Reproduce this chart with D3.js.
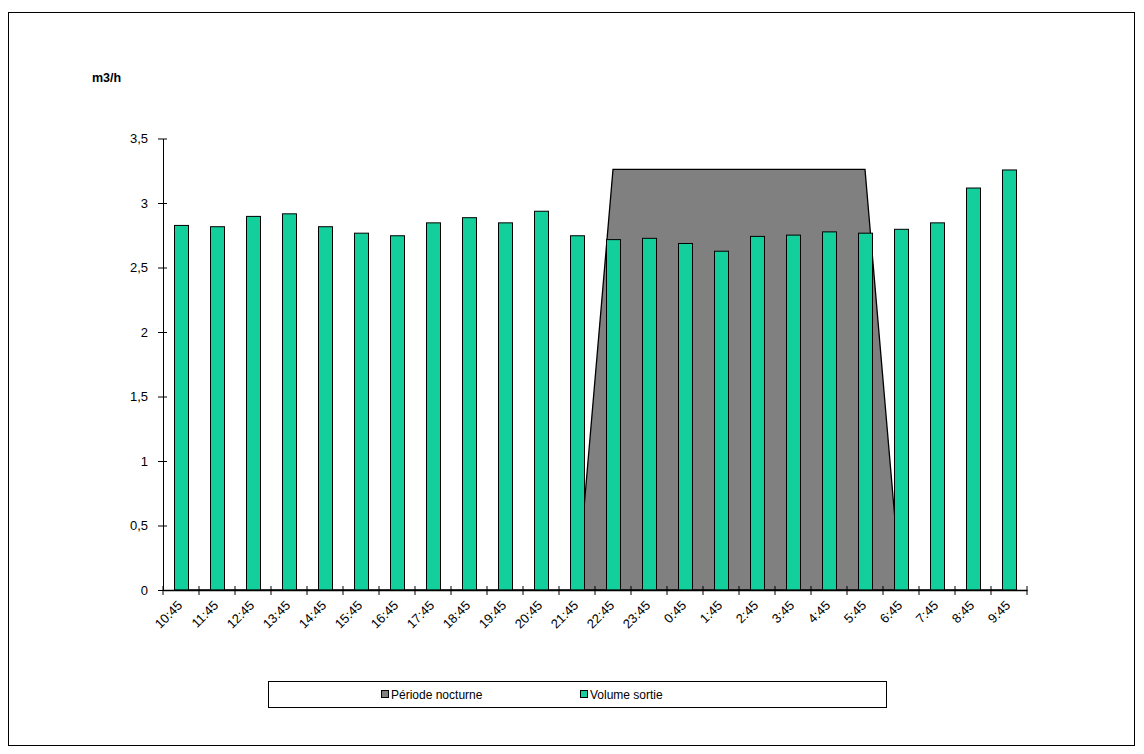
<!DOCTYPE html>
<html><head><meta charset="utf-8">
<script src="https://cdn.jsdelivr.net/npm/d3@7"></script>
<style>body{margin:0;background:#fff}svg{display:block}text{font-family:"Liberation Sans",Arial,sans-serif}</style>
</head><body><svg id="c" width="1144" height="754"></svg>
<script>
const categories = ["10:45","11:45","12:45","13:45","14:45","15:45","16:45","17:45","18:45","19:45","20:45","21:45","22:45","23:45","0:45","1:45","2:45","3:45","4:45","5:45","6:45","7:45","8:45","9:45"];
const volumeSortie = [2.83,2.82,2.90,2.92,2.82,2.77,2.75,2.85,2.89,2.85,2.94,2.75,2.72,2.73,2.69,2.63,2.745,2.755,2.78,2.77,2.80,2.85,3.12,3.26];
const periodeNocturne = [0,0,0,0,0,0,0,0,0,0,0,0,3.26,3.26,3.26,3.26,3.26,3.26,3.26,3.26,0,0,0,0];
const yTicks = [0,0.5,1,1.5,2,2.5,3,3.5];
const yTickLabels = ["0","0,5","1","1,5","2","2,5","3","3,5"];
const seriesNames = ["Période nocturne","Volume sortie"];
const colors = ["#808080","#12CF9B"];

const svg = d3.select("#c");
svg.append("rect").attr("x",8.5).attr("y",12.5).attr("width",1126).attr("height",733)
  .attr("fill","#fff").attr("stroke","#000").attr("stroke-width",1);

const pL = 163, pR = 1027, pT = 138.5, pB = 590;
const x = d3.scaleBand().domain(categories).range([pL,pR]).padding(0);
const y = d3.scaleLinear().domain([0,3.5]).range([pB,pT]);
const bw = x.bandwidth();
const barW = 15;

// area (night period)
const area = d3.area().x((d,i)=>x(categories[i])+bw/2).y0(y(0)).y1(d=>y(d));
svg.append("path").datum(periodeNocturne).attr("d",area)
  .attr("fill",colors[0]).attr("stroke","#000").attr("stroke-width",1.3);

// bars
svg.selectAll("rect.bar").data(volumeSortie).join("rect").attr("class","bar")
  .attr("x",(d,i)=>Math.round(x(categories[i])+bw/2-barW/2)+0.5)
  .attr("y",d=>y(d)+0.5)
  .attr("width",barW-1).attr("height",d=>y(0)-y(d)-0.5)
  .attr("fill",colors[1]).attr("stroke","#000").attr("stroke-width",1);

// y axis
const ya = svg.append("g").attr("transform",`translate(${pL},0)`)
  .call(d3.axisLeft(y).tickValues(yTicks).tickFormat((d,i)=>yTickLabels[i]).tickSizeInner(5).tickSizeOuter(0).tickPadding(10));
ya.select(".domain").attr("stroke","#000");
ya.selectAll(".tick line").attr("x2",-5).attr("x1",4).attr("stroke","#000");
ya.selectAll("text").attr("font-size",13).attr("fill","#000").attr("font-family","Liberation Sans, Arial, sans-serif");

// x axis
const xa = svg.append("g").attr("transform",`translate(0,${pB})`)
  .call(d3.axisBottom(x).tickSize(0).tickPadding(0));
xa.select(".domain").attr("stroke","#000").attr("stroke-width",1.5);
xa.selectAll(".tick line").remove();
const bounds = categories.map(c=>x(c)).concat([pR]);
xa.selectAll("line.bt").data(bounds).join("line").attr("class","bt")
  .attr("x1",d=>d).attr("x2",d=>d).attr("y1",-4).attr("y2",5).attr("stroke","#000");
xa.selectAll(".tick text")
  .attr("font-size",13).attr("fill","#000").attr("font-family","Liberation Sans, Arial, sans-serif")
  .attr("text-anchor","end").attr("dy","0.35em")
  .attr("transform","translate(-1,13) rotate(-45)");

// y title
svg.append("text").attr("x",92).attr("y",82).attr("font-size",12.5).attr("font-weight","bold").text("m3/h");

// legend
svg.append("rect").attr("x",268.5).attr("y",681.5).attr("width",618).attr("height",26)
  .attr("fill","#fff").attr("stroke","#000");
const legX = [381,580];
seriesNames.forEach((n,i)=>{
  svg.append("rect").attr("x",legX[i]+0.5).attr("y",690.5).attr("width",7).attr("height",7)
    .attr("fill",colors[i]).attr("stroke","#000");
  svg.append("text").attr("x",legX[i]+10).attr("y",698.5).attr("font-size",12).text(n);
});
</script></body></html>
